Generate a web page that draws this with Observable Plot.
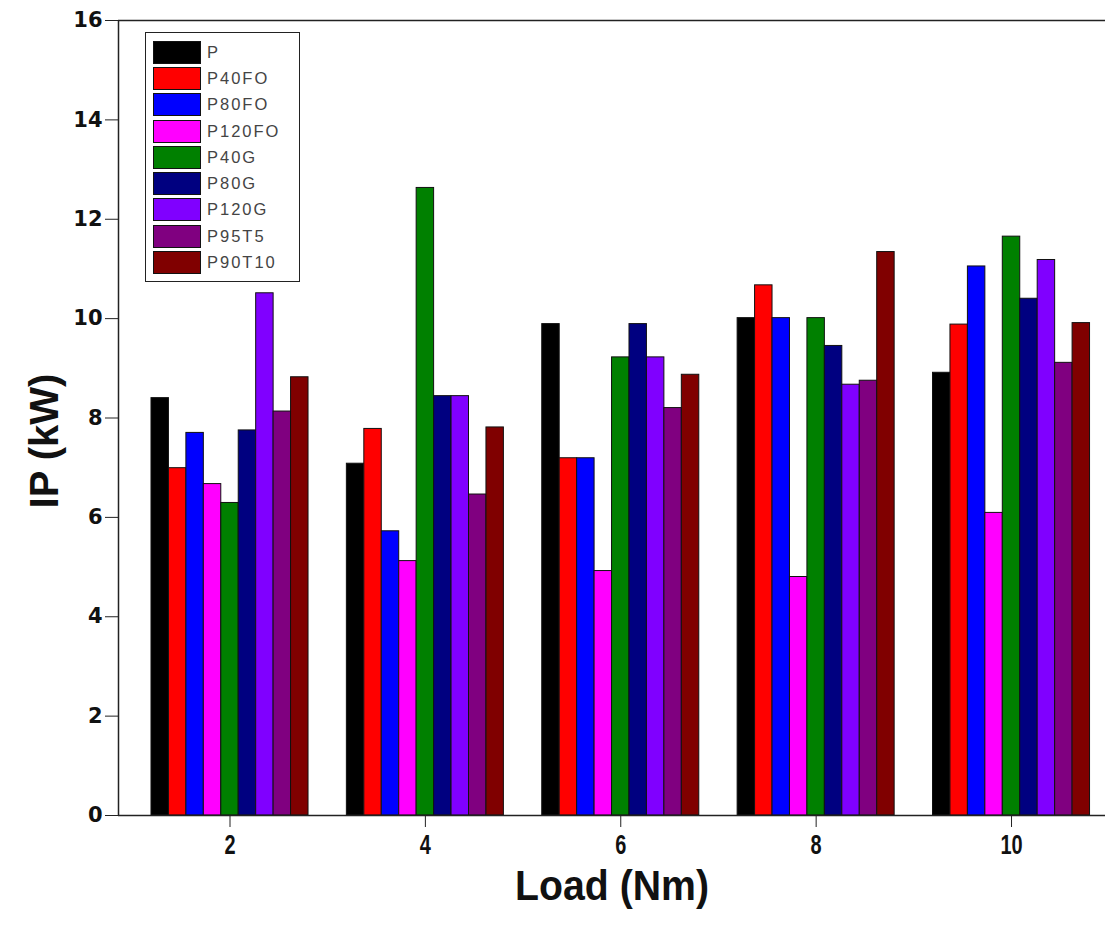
<!DOCTYPE html>
<html>
<head>
<meta charset="utf-8">
<script src="https://cdn.jsdelivr.net/npm/d3@7"></script>
<script src="https://cdn.jsdelivr.net/npm/@observablehq/plot@0.6"></script>
<style>
  body { margin: 0; background: #fff; }
  #wrap { position: relative; width: 1105px; height: 938px; overflow: hidden; }
  #legend { position: absolute; left: 145px; top: 32px; width: 155px; height: 250px;
            border: 1.5px solid #222; background: #fff; box-sizing: border-box; padding-top: 6px; }
  .item { display: flex; align-items: center; height: 26.3px; }
  .sw { width: 48px; height: 23px; margin-left: 7px; border: 1px solid #111; box-sizing: border-box; }
  .lab { margin-left: 6px; font-family: "Liberation Sans", Arial, sans-serif; font-size: 16.5px;
         letter-spacing: 2px; color: #444; }
</style>
</head>
<body>
<div id="wrap"><div id="legend"></div></div>
<script>
const loads = [2, 4, 6, 8, 10];
const seriesNames = ["P", "P40FO", "P80FO", "P120FO", "P40G", "P80G", "P120G", "P95T5", "P90T10"];
const seriesColors = ["#000000", "#ff0000", "#0000ff", "#ff00ff", "#008000", "#000080", "#8000ff", "#800080", "#800000"];
const yTicks = [0, 2, 4, 6, 8, 10, 12, 14, 16];

const P      = [8.40, 7.08, 9.89, 10.01, 8.91];
const P40FO  = [6.99, 7.78, 7.19, 10.67, 9.88];
const P80FO  = [7.70, 5.72, 7.19, 10.01, 11.05];
const P120FO = [6.67, 5.12, 4.92, 4.80, 6.09];
const P40G   = [6.29, 12.63, 9.22, 10.01, 11.65];
const P80G   = [7.75, 8.44, 9.89, 9.45, 10.40];
const P120G  = [10.51, 8.44, 9.22, 8.67, 11.18];
const P95T5  = [8.13, 6.46, 8.20, 8.75, 9.11];
const P90T10 = [8.82, 7.81, 8.87, 11.34, 9.91];

const seriesValues = [P, P40FO, P80FO, P120FO, P40G, P80G, P120G, P95T5, P90T10];

const xDomain = [0.8586, 10.962];
const yDomain = [0, 16];
const barW = 0.1786; // bar width in load units

const data = [];
seriesNames.forEach((s, i) => {
  loads.forEach((l, j) => {
    data.push({series: s, i, load: l, value: seriesValues[i][j]});
  });
});

const chart = Plot.plot({
  width: 1105,
  height: 938,
  marginLeft: 118,
  marginRight: 0,
  marginTop: 20,
  marginBottom: 123,
  style: {background: "#fff"},
  x: {domain: xDomain, axis: null},
  y: {domain: yDomain, axis: null},
  color: {domain: seriesNames, range: seriesColors},
  marks: [
    Plot.rectY(data, {
      x1: d => d.load + (d.i - 4.5) * barW,
      x2: d => d.load + (d.i - 3.5) * barW,
      y1: 0,
      y2: "value",
      fill: "series",
      stroke: "#111",
      strokeWidth: 1
    }),
    Plot.ruleY(yDomain, {stroke: "#222", strokeWidth: 1.5}),
    Plot.ruleX([xDomain[0]], {stroke: "#222", strokeWidth: 1.5}),
    Plot.axisY({ticks: yTicks, tickSize: 13, tickPadding: 3, label: null,
                fontSize: 21, fontWeight: "bold", fontFamily: "DejaVu Sans, sans-serif", stroke: "#222", fill: "#111"}),
    Plot.axisX({ticks: loads, tickSize: 12, tickPadding: 7, label: null,
                fontSize: 27, fontWeight: "bold", fontFamily: "Liberation Sans, Arial, sans-serif", stroke: "#222", fill: "#111"}),
    Plot.text(["Load (Nm)"], {frameAnchor: "bottom", dy: 71, lineAnchor: "middle", textAnchor: "middle",
                text: d => d, fontSize: 43, fontWeight: "bold",
                fontFamily: "Liberation Sans, Arial, sans-serif", fill: "#111"}),
    Plot.text(["IP (kW)"], {frameAnchor: "left", dx: -73, dy: 23, rotate: -90, lineAnchor: "middle", textAnchor: "middle",
                text: d => d, fontSize: 40, fontWeight: "bold",
                fontFamily: "Liberation Sans, Arial, sans-serif", fill: "#111"})
  ]
});

document.getElementById("wrap").prepend(chart);

// condensed look for x-axis texts (as in the reference)
const tickStrings = loads.map(String);
d3.select(chart).selectAll("text").each(function () {
  const t = this.textContent;
  const fs = this.getAttribute("font-size") || (this.parentNode && this.parentNode.getAttribute("font-size"));
  if (t === "Load (Nm)") {
    this.setAttribute("textLength", 194);
    this.setAttribute("lengthAdjust", "spacingAndGlyphs");
  } else if (tickStrings.includes(t) && +fs === 27) {
    const w = this.getComputedTextLength();
    this.setAttribute("textLength", (w * 0.74).toFixed(1));
    this.setAttribute("lengthAdjust", "spacingAndGlyphs");
  }
});

const legend = document.getElementById("legend");
seriesNames.forEach((s, i) => {
  const item = document.createElement("div");
  item.className = "item";
  const sw = document.createElement("div");
  sw.className = "sw";
  sw.style.background = seriesColors[i];
  const lab = document.createElement("span");
  lab.className = "lab";
  lab.textContent = s;
  item.append(sw, lab);
  legend.append(item);
});
</script>
</body>
</html>
